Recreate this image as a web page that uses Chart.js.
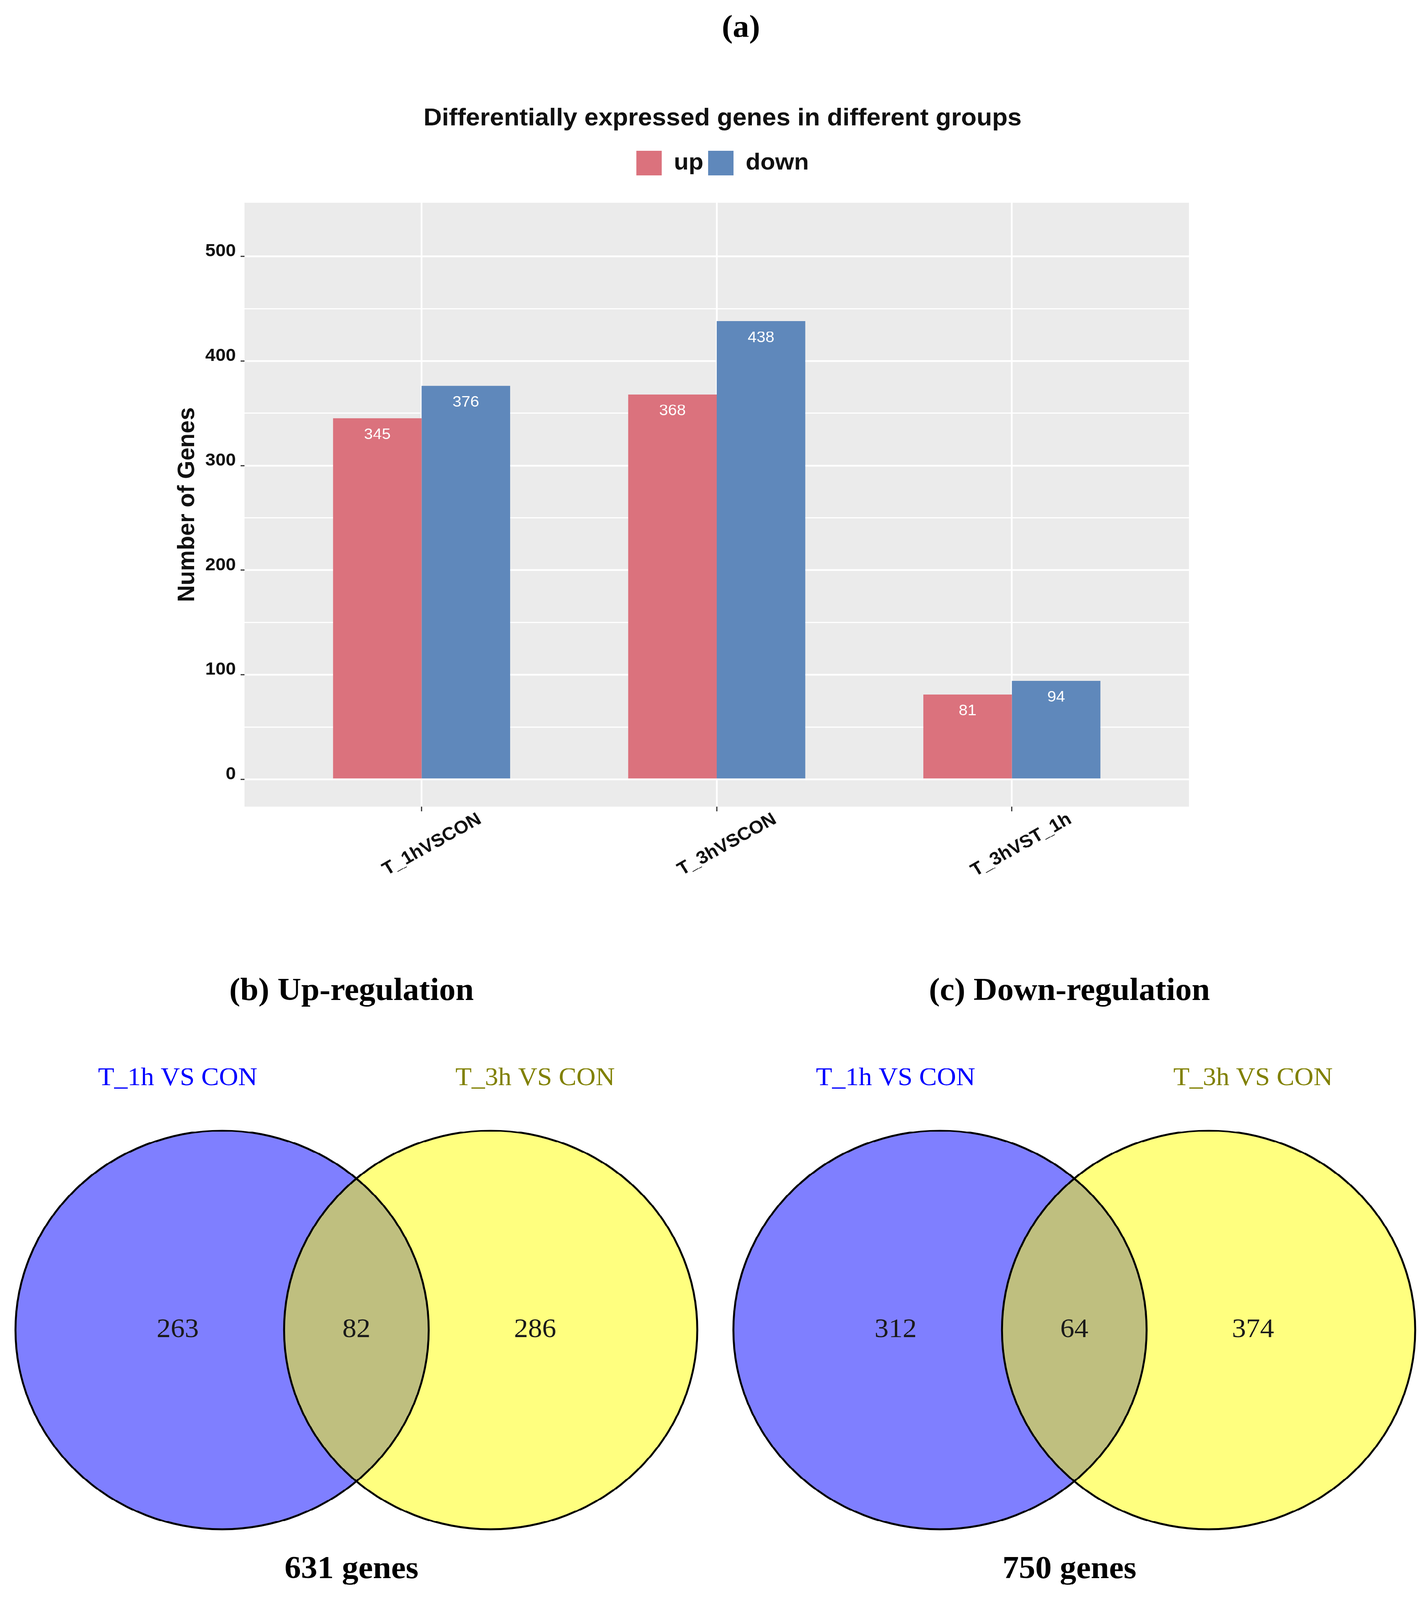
<!DOCTYPE html>
<html>
<head>
<meta charset="utf-8">
<script src="https://cdn.jsdelivr.net/npm/chart.js@4.4.1/dist/chart.umd.min.js"></script>
<style>
  html, body { margin: 0; padding: 0; background: #fff; overflow: hidden; }
  body { width: 3656px; height: 4248px; }
  #fig { position: absolute; left: 0; top: 0; width: 3656px; height: 4248px; transform-origin: 0 0; }
  canvas { position: absolute; }
</style>
</head>
<body>
<div id="fig">
  <canvas id="barChart" width="3700" height="2500" style="left:0;top:0"></canvas>
  <canvas id="vennUp" width="1800" height="1798" style="left:0;top:2450px"></canvas>
  <canvas id="vennDown" width="1800" height="1798" style="left:1838px;top:2450px"></canvas>
</div>
<script>
// --- data ---
const groups = ['T_1hVSCON', 'T_3hVSCON', 'T_3hVST_1h'];
const upCounts = [345, 368, 81];
const downCounts = [376, 438, 94];
const yGridValues = [0, 50, 100, 150, 200, 250, 300, 350, 400, 450, 500];

const vennSets = ['T_1h VS CON', 'T_3h VS CON'];
const upVenn = [263, 82, 286];     // only 1h, both, only 3h
const downVenn = [312, 64, 374];

// --- venn layout (data units, radius = 1) ---
const vennCenterX = [-0.65, 0.65];
const vennRadius = [1, 1];
const vennCountX = [-0.865, 0, 0.865];
const vennLabelY = 1.263;

// the figure is laid out for 4248px; squeeze it if the viewport is shorter
const fitY = Math.min(1, window.innerHeight / 4248);
document.getElementById('fig').style.transform = 'scale(1,' + fitY + ')';

Chart.defaults.font.family = '"Liberation Sans", Arial, sans-serif';
Chart.defaults.color = '#111';

const panelBg = {
  id: 'panelBg',
  beforeDraw(chart) {
    const {ctx, chartArea: a} = chart;
    ctx.save();
    ctx.fillStyle = '#ebebeb';
    ctx.fillRect(a.left, a.top, a.right - a.left, a.bottom - a.top);
    ctx.restore();
  }
};

const barLabels = {
  id: 'barLabels',
  afterDatasetsDraw(chart) {
    const {ctx} = chart;
    ctx.save();
    ctx.font = '41px "Liberation Sans"';
    ctx.fillStyle = '#fff';
    ctx.textAlign = 'center';
    ctx.textBaseline = 'middle';
    chart.data.datasets.forEach((ds, i) => {
      chart.getDatasetMeta(i).data.forEach((bar, j) => {
        ctx.fillText(ds.data[j].y, bar.x, bar.y + 44);
      });
    });
    ctx.restore();
  }
};

// figure tag "(a)" sits a bit right of the chart title
const panelTag = {
  id: 'panelTag',
  afterDraw(chart) {
    const {ctx} = chart;
    ctx.save();
    ctx.font = 'bold 84px "Liberation Serif"';
    ctx.fillStyle = '#000';
    ctx.textAlign = 'center';
    ctx.textBaseline = 'middle';
    ctx.fillText('(a)', chart.width / 2 + 47, 76);
    ctx.restore();
  }
};

// push the plot panel down a little below the legend
const legendGap = {
  id: 'legendGap',
  beforeInit(chart) {
    const fit = chart.legend.fit;
    chart.legend.fit = function () {
      fit.call(this);
      this.height += 62;
    };
  }
};

new Chart(document.getElementById('barChart'), {
  type: 'bar',
  data: {
    datasets: [{
      label: 'up',
      data: upCounts.map((v, i) => ({x: i + 1, y: v})),
      backgroundColor: '#db727d',
      borderWidth: 0,
      categoryPercentage: 0.6,
      barPercentage: 1
    }, {
      label: 'down',
      data: downCounts.map((v, i) => ({x: i + 1, y: v})),
      backgroundColor: '#5f88bb',
      borderWidth: 0,
      categoryPercentage: 0.6,
      barPercentage: 1
    }]
  },
  options: {
    responsive: false,
    animation: false,
    devicePixelRatio: 1,
    events: [],
    layout: { padding: 0 },
    scales: {
      x: {
        type: 'linear',
        min: 0.4,
        max: 3.6,
        offset: false,
        afterBuildTicks: s => { s.ticks = groups.map((g, i) => ({value: i + 1})); },
        afterFit: s => { s.height = 358; },
        border: { display: false },
        grid: {
          offset: false,
          color: '#fff',
          lineWidth: 4.5,
          tickColor: '#333',
          tickLength: 12,
          tickWidth: 3
        },
        ticks: {
          callback: v => groups[v - 1] || '',
          minRotation: 30,
          maxRotation: 30,
          labelOffset: 149,
          padding: -7,
          color: '#111',
          font: { size: 48, weight: 'bold' }
        }
      },
      y: {
        min: -26.25,
        max: 551.25,
        afterBuildTicks: s => { s.ticks = yGridValues.map(v => ({value: v})); },
        afterFit: s => { s.width = 626; },
        border: { display: false },
        grid: {
          color: '#fff',
          lineWidth: c => (c.tick && c.tick.value % 100 === 0 ? 4.5 : 3),
          tickColor: c => (c.tick && c.tick.value % 100 === 0 ? '#333' : 'rgba(0,0,0,0)'),
          tickLength: 10,
          tickWidth: 3
        },
        ticks: {
          callback: v => (v % 100 === 0 ? v : ''),
          padding: 12,
          labelOffset: -13,
          color: '#111',
          font: { size: 47, weight: 'bold' }
        },
        title: {
          display: true,
          text: 'Number of Genes',
          color: '#111',
          padding: { top: 449, bottom: 0 },
          font: { size: 62, weight: 'bold', lineHeight: 1 }
        }
      },
      yR: {
        type: 'linear',
        position: 'right',
        display: true,
        afterFit: s => { s.width = 656; },
        border: { display: false },
        grid: { display: false },
        ticks: { display: false }
      }
    },
    plugins: {
      title: {
        display: true,
        text: 'Differentially expressed genes in different groups',
        color: '#111',
        padding: { top: 282.5, bottom: 40.5 },
        font: { size: 65, weight: 'bold', lineHeight: 1 }
      },
      legend: {
        position: 'top',
        labels: {
          boxWidth: 65,
          boxHeight: 66,
          padding: 12,
          color: '#111',
          font: { size: 62, weight: 'bold' }
        }
      },
      tooltip: { enabled: false }
    }
  },
  plugins: [panelBg, barLabels, legendGap, panelTag]
});

// --- venn diagrams ---
const vennText = {
  id: 'vennText',
  afterDatasetsDraw(chart, args, opts) {
    const {ctx, scales: {x, y}} = chart;
    ctx.save();
    ctx.textAlign = 'center';
    ctx.textBaseline = 'middle';
    ctx.font = '72px "Liberation Serif"';
    ctx.fillStyle = '#1a1a1a';
    opts.counts.forEach((n, i) => {
      ctx.fillText(n, x.getPixelForValue(vennCountX[i]), y.getPixelForValue(0));
    });
    ctx.font = '68px "Liberation Serif"';
    vennSets.forEach((name, i) => {
      ctx.fillStyle = ['#0000ff', '#808000'][i];
      const cx = i === 0 ? vennCountX[0] : vennCountX[2];
      ctx.fillText(name, x.getPixelForValue(cx), y.getPixelForValue(vennLabelY));
    });
    ctx.restore();
  }
};

// circle radius in pixels, taken from the x scale so it stays in data units
function circleRadius(ctx) {
  const s = ctx.chart.scales.x;
  return s.getPixelForValue(vennRadius[ctx.dataIndex]) - s.getPixelForValue(0);
}

function makeVenn(id, title, counts) {
  const total = counts.reduce((a, b) => a + b, 0);
  new Chart(document.getElementById(id), {
    type: 'scatter',
    data: {
      datasets: [{
        label: 'fill',
        data: vennCenterX.map(cx => ({x: cx, y: 0})),
        pointRadius: circleRadius,
        pointBackgroundColor: ['rgba(0,0,255,0.5)', 'rgba(255,255,0,0.5)'],
        pointBorderWidth: 0,
        order: 2
      }, {
        label: 'outline',
        data: vennCenterX.map(cx => ({x: cx, y: 0})),
        pointRadius: circleRadius,
        pointBackgroundColor: 'rgba(0,0,0,0)',
        pointBorderColor: '#000',
        pointBorderWidth: 5,
        order: 1
      }]
    },
    options: {
      responsive: false,
      animation: false,
      devicePixelRatio: 1,
      events: [],
      layout: { padding: 0 },
      scales: {
        x: { type: 'linear', display: false, min: -1.725, max: 1.678 },
        y: { type: 'linear', display: false, min: -1.087, max: 1.5766 }
      },
      plugins: {
        legend: { display: false },
        tooltip: { enabled: false },
        title: {
          display: true,
          text: title,
          color: '#000',
          padding: { top: 141, bottom: 22 },
          font: { family: '"Liberation Serif", serif', size: 84, weight: 'bold', lineHeight: 1 }
        },
        subtitle: {
          display: true,
          position: 'bottom',
          text: total + ' genes',
          color: '#000',
          padding: { top: 20, bottom: 38 },
          font: { family: '"Liberation Serif", serif', size: 84, weight: 'bold', lineHeight: 1 }
        },
        vennText: { counts: counts }
      }
    },
    plugins: [vennText]
  });
}

makeVenn('vennUp', '(b) Up-regulation', upVenn);
makeVenn('vennDown', '(c) Down-regulation', downVenn);
</script>
</body>
</html>
